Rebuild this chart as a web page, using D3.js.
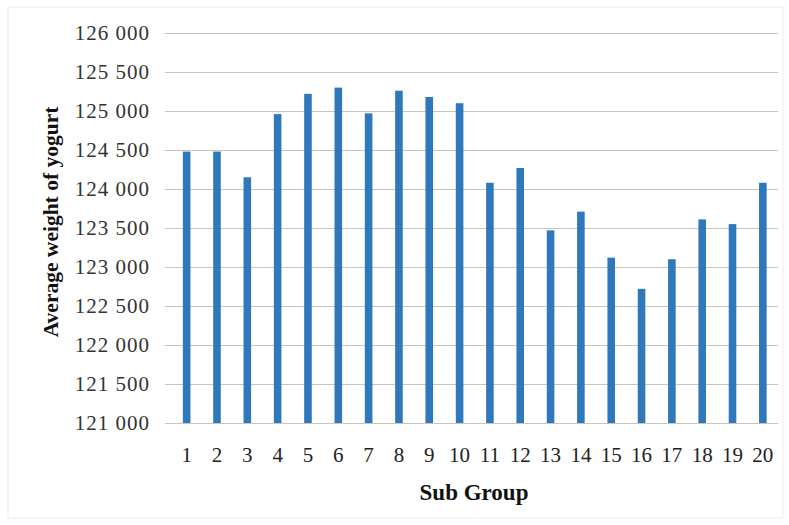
<!DOCTYPE html>
<html>
<head>
<meta charset="utf-8">
<script src="https://cdn.jsdelivr.net/npm/d3@7"></script>
<style>
  body { margin: 0; background: #fff; }
  svg { display: block; }
  text { font-family: "Liberation Serif", "DejaVu Serif", serif; }
</style>
</head>
<body>
<div id="chart"></div>
<script>
// data
const subGroups = ["1","2","3","4","5","6","7","8","9","10","11","12","13","14","15","16","17","18","19","20"];
const avgWeight = [124480, 124480, 124150, 124960, 125220, 125300, 124970, 125260, 125180, 125100,
                   124080, 124270, 123470, 123710, 123120, 122720, 123100, 123610, 123550, 124080];
const yTicks = [121000, 121500, 122000, 122500, 123000, 123500, 124000, 124500, 125000, 125500, 126000];

render();

function render() {
    const width = 789, height = 525;
    const plot = { left: 171.5, right: 778, top: 33, bottom: 423 };

    const svg = d3.select('#chart').append('svg')
        .attr('width', width)
        .attr('height', height);

    // faint outer frame of the chart
    svg.append('rect')
        .attr('x', 8).attr('y', 7)
        .attr('width', 775).attr('height', 511)
        .attr('fill', 'none')
        .attr('stroke', '#ecece4')
        .attr('stroke-width', 1);

    const x = d3.scaleBand()
        .domain(subGroups)
        .range([plot.left, plot.right])
        .paddingInner(0.75)
        .paddingOuter(0.375);

    const y = d3.scaleLinear()
        .domain([121000, 126000])
        .range([plot.bottom, plot.top]);

    const fmt = d3.formatLocale({ decimal: ".", thousands: " ", grouping: [3], currency: ["", ""] }).format(",");

    // gridlines
    svg.append('g')
        .selectAll('line')
        .data(yTicks)
        .join('line')
        .attr('x1', 165)
        .attr('x2', plot.right)
        .attr('y1', d => Math.round(y(d)) + 0.5)
        .attr('y2', d => Math.round(y(d)) + 0.5)
        .attr('stroke', '#c6c6bc')
        .attr('stroke-width', 1);

    // y tick labels
    svg.append('g')
        .selectAll('text')
        .data(yTicks)
        .join('text')
        .attr('x', 150)
        .attr('y', d => y(d))
        .attr('dy', '0.35em')
        .attr('text-anchor', 'end')
        .style('font-size', '21px')
        .style('letter-spacing', '1px')
        .style('fill', '#333')
        .text(d => fmt(d));

    // bars
    svg.append('g')
        .selectAll('rect')
        .data(avgWeight)
        .join('rect')
        .attr('x', (d, i) => x(subGroups[i]))
        .attr('y', d => y(d))
        .attr('width', x.bandwidth())
        .attr('height', d => y(121000) - y(d))
        .attr('fill', '#2e78bb');

    // x tick labels
    svg.append('g')
        .selectAll('text')
        .data(subGroups)
        .join('text')
        .attr('x', d => x(d) + x.bandwidth() / 2)
        .attr('y', 455)
        .attr('dy', '0.35em')
        .attr('text-anchor', 'middle')
        .style('font-size', '21px')
        .style('fill', '#222')
        .text(d => d);

    // axis titles
    svg.append('text')
        .attr('x', 474)
        .attr('y', 492)
        .attr('dy', '0.35em')
        .attr('text-anchor', 'middle')
        .style('font-size', '23px')
        .style('font-weight', 'bold')
        .style('fill', '#111')
        .text('Sub Group');

    svg.append('text')
        .attr('transform', 'translate(50,222) rotate(-90)')
        .attr('dy', '0.35em')
        .attr('text-anchor', 'middle')
        .style('font-size', '21.5px')
        .style('font-weight', 'bold')
        .style('fill', '#111')
        .text('Average weight of yogurt');
}
</script>
</body>
</html>
